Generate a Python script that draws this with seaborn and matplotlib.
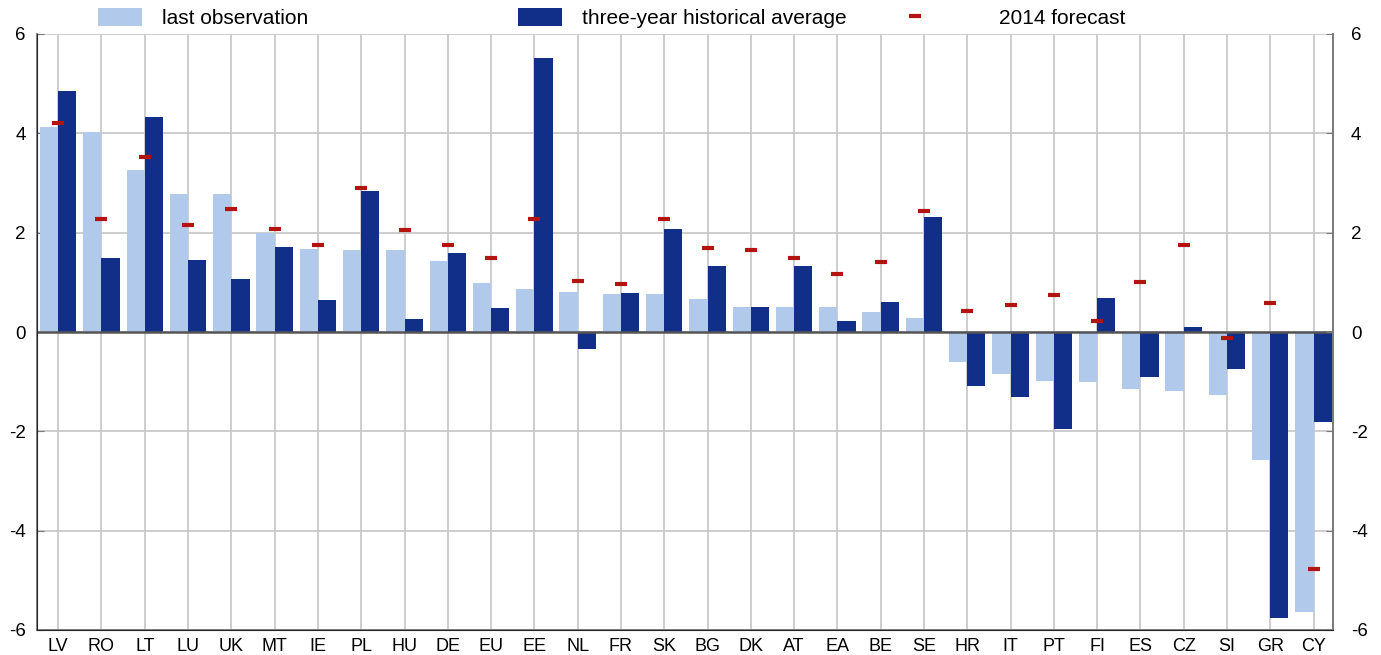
import seaborn as sns
import matplotlib.pyplot as plt
import numpy as np
import pandas as pd
from matplotlib.patches import Patch
from matplotlib.lines import Line2D

countries = ["LV", "RO", "LT", "LU", "UK", "MT", "IE", "PL", "HU", "DE",
             "EU", "EE", "NL", "FR", "SK", "BG", "DK", "AT", "EA", "BE",
             "SE", "HR", "IT", "PT", "FI", "ES", "CZ", "SI", "GR", "CY"]
last_obs = [4.13, 4.03, 3.27, 2.77, 2.77, 2.00, 1.68, 1.65, 1.65, 1.43,
            0.98, 0.86, 0.80, 0.76, 0.76, 0.66, 0.51, 0.51, 0.50, 0.40,
            0.29, -0.60, -0.85, -0.99, -1.01, -1.15, -1.19, -1.27, -2.58, -5.63]
hist_avg = [4.85, 1.50, 4.33, 1.44, 1.07, 1.72, 0.65, 2.83, 0.27, 1.60,
            0.48, 5.52, -0.35, 0.78, 2.07, 1.33, 0.50, 1.33, 0.22, 0.60,
            2.31, -1.09, -1.31, -1.96, 0.69, -0.91, 0.11, -0.75, -5.75, -1.82]
forecast = [4.20, 2.27, 3.52, 2.15, 2.48, 2.07, 1.75, 2.90, 2.05, 1.75,
            1.50, 2.28, 1.03, 0.97, 2.27, 1.70, 1.65, 1.50, 1.17, 1.40,
            2.44, 0.43, 0.55, 0.75, 0.22, 1.01, 1.75, -0.12, 0.59, -4.77]
series_names = ["last observation", "three-year historical average", "2014 forecast"]
y_ticks = [-6, -4, -2, 0, 2, 4, 6]

LIGHT = "#b1c9ea"
DARK = "#112f88"
RED = "#b3140f"
GRID = "#c9c9c9"
SPINE = "#7a7a7a"

n = len(countries)
df = pd.DataFrame({
    "country": countries * 2,
    "value": last_obs + hist_avg,
    "series": [series_names[0]] * n + [series_names[1]] * n,
})

sns.set_style("white")
plt.rcParams["font.family"] = ["Liberation Sans", "DejaVu Sans"]
plt.rcParams["axes.unicode_minus"] = False
plt.rcParams["text.color"] = "black"

fig, ax = plt.subplots(figsize=(13.81, 6.55), dpi=100)
fig.subplots_adjust(left=37/1381, right=1333/1381, bottom=25/655, top=1 - 34/655)

sns.barplot(data=df, x="country", y="value", hue="series", palette=[LIGHT, DARK],
            width=0.84, gap=0, linewidth=0, saturation=1, legend=False, ax=ax)

# forecast dashes at category centres
ax.plot(np.arange(n), forecast, linestyle="none", marker="_", markersize=9,
        markeredgewidth=3, color=RED, zorder=5)

ax.axhline(0, color="#555555", lw=1.8, zorder=4)

ax.set_xlim(-0.49, n - 1 + 0.45)
ax.set_ylim(-6, 6)
ax.set_yticks(y_ticks)
ax.set_axisbelow(True)
ax.grid(True, color=GRID, lw=1.3)
ax.set_xlabel("")
ax.set_ylabel("")

for side in ["left", "right", "bottom"]:
    ax.spines[side].set_color(SPINE)
    ax.spines[side].set_linewidth(1.3)
ax.spines["top"].set_visible(False)

ax.tick_params(axis="y", direction="in", length=5, color=SPINE, labelcolor="black",
               labelsize=13.5, pad=8)
ax.tick_params(axis="x", direction="out", length=3, color=SPINE, labelcolor="black",
               labelsize=13, pad=3)

# right-hand axis labels
ax2 = ax.twinx()
ax2.set_ylim(-6, 6)
ax2.set_yticks(y_ticks)
ax2.grid(False)
ax2.spines["top"].set_visible(False)
ax2.spines["right"].set_color(SPINE)
ax2.spines["right"].set_linewidth(1.3)
ax2.tick_params(axis="y", direction="in", length=5, color=SPINE, labelcolor="black",
                labelsize=13.5, pad=13)

legend_kw = dict(loc="center left", frameon=False, fontsize=15, handlelength=2.1,
                 handleheight=0.95, borderpad=0, borderaxespad=0)
ly = 1 - 18/655
fig.legend(handles=[Patch(facecolor=LIGHT, edgecolor="none")], labels=[series_names[0]],
           bbox_to_anchor=(98/1381, ly), handletextpad=0.95, **legend_kw)
fig.legend(handles=[Patch(facecolor=DARK, edgecolor="none")], labels=[series_names[1]],
           bbox_to_anchor=(518/1381, ly), handletextpad=0.95, **legend_kw)
fig.legend(handles=[Line2D([], [], color=RED, marker="_", linestyle="none",
                           markersize=9, markeredgewidth=3)],
           labels=[series_names[2]],
           bbox_to_anchor=(893/1381, ly), handletextpad=3.0, **legend_kw)

fig.savefig("out.png", dpi=100)
